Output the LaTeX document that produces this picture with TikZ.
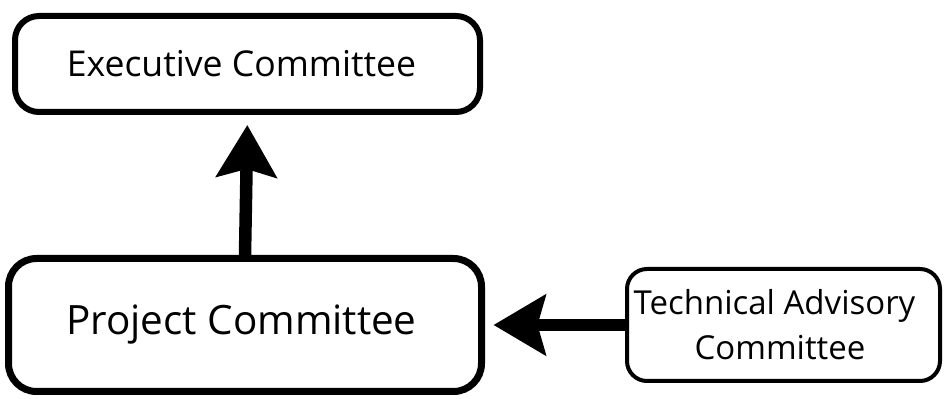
\documentclass[tikz,border=0pt]{standalone}
\usepackage{fontspec}
\setmainfont{Open Sans}
\usetikzlibrary{arrows.meta}
\begin{document}
\begin{tikzpicture}[x=1pt,y=1pt,
  box/.style={draw=black, fill=white, align=center, inner sep=0pt},
  flow/.style={line width=12.5pt, -{Stealth[length=52pt, width=60pt, inset=8pt]}}
]
\useasboundingbox (0,0) rectangle (946,399);
% committee boxes
\node[box, line width=6pt, rounded corners=24pt, minimum width=465pt, minimum height=96pt,
      font=\fontsize{35.6}{42}\selectfont] (exec) at (247.5,335) {Executive Committee\hspace*{12pt}};
\node[box, line width=7pt, rounded corners=28pt, minimum width=473pt, minimum height=133pt,
      font=\fontsize{40.4}{46}\selectfont] (proj) at (245,74) {Project Committee\hspace*{7pt}};
\node[box, line width=4pt, rounded corners=20pt, minimum width=313pt, minimum height=112pt,
      font=\fontsize{33}{45}\selectfont] (tech) at (783.5,74) {Technical Advisory\hspace*{18pt}\\Committee\hspace*{7pt}};
% reporting lines
\draw[flow, shorten >=10pt] (proj.north) -- (exec.south);
\draw[flow, shorten >=8.5pt] (tech.west) -- (proj.east);
\end{tikzpicture}
\end{document}
